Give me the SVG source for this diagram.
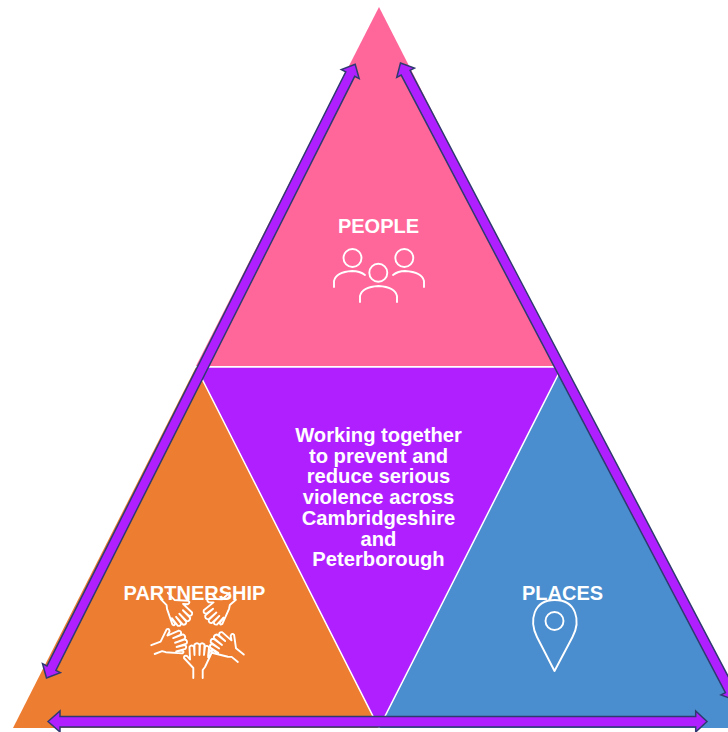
<svg xmlns="http://www.w3.org/2000/svg" width="728" height="732" viewBox="0 0 728 732">
  <defs>
    <path id="hand" d="M-5.700 35L-5.700 25L-15 15Q-15.500 12-12 13L-9 16.500L-9.500 4Q-7.500 1-5 4L-4.500 12L-4.500 1.500Q-2-1 .5 1.500L.5 12L1 1.500Q3-1 5.500 1.500L5 12L6 4Q8 1.500 10 4.500L9 14L10.500 8Q12.500 6 13 9L6 24L3.700 27L3.700 35"/>
  </defs>
  <style>
    .tri { stroke: #ffffff; stroke-width: 1.500; }
    .label { font-family: "Liberation Sans", Arial, sans-serif; font-size: 20px; font-weight: 700; fill: #ffffff; text-anchor: middle; }
    .wide { font-size: 20.200px; }
    .icon { fill: none; stroke: #ffffff; stroke-width: 1.900; stroke-linecap: round; stroke-linejoin: round; }
    .arrow { fill: #b01fff; stroke: #2f3a70; stroke-width: 1.500; stroke-linejoin: miter; }
  </style>
  <rect width="728" height="732" fill="#ffffff"/>
  <g id="partnership">
    <polygon points="196,367 13,728 379,728" fill="#ed7d31"/>
    <use href="#hand" class="icon" transform="translate(199 643)"/>
    <use href="#hand" class="icon" transform="translate(186 638) rotate(69)"/>
    <use href="#hand" class="icon" transform="translate(213 637) rotate(-51) scale(-1 1)"/>
    <use href="#hand" class="icon" transform="translate(188 622) rotate(136)"/>
    <use href="#hand" class="icon" transform="translate(207 620) rotate(-131) scale(-1 1)"/>
    <text class="label" x="194.500" y="600">PARTNERSHIP</text>
  </g>
  <g id="places">
    <polygon points="562,367 379,728 745,728" fill="#4a8ecf"/>
    <path class="icon" d="M554.500 671L537 637C529 621 533 600 554.800 600C576.500 600 581 621 572.500 637Z"/>
    <circle class="icon" cx="554.500" cy="621" r="9"/>
    <text class="label" x="562.500" y="600">PLACES</text>
  </g>
  <g id="people">
    <polygon points="379,7 196,366 562,366" fill="#ff6699"/>
    <circle class="icon" cx="352.500" cy="258" r="9"/>
    <circle class="icon" cx="404.300" cy="258" r="9"/>
    <circle class="icon" cx="378.300" cy="272.700" r="9"/>
    <path class="icon" d="M334 287L334 281Q336 272 352 271Q360 271 365 275"/>
    <path class="icon" d="M393 275Q398 271 405 271Q422 272 424 281L424 287"/>
    <path class="icon" d="M360 302L360 296Q362 287 378.500 286Q395 287 397 296L397 302"/>
    <text class="label" x="378.500" y="233">PEOPLE</text>
  </g>
  <g id="centre">
    <polygon points="196,367 562,367 379,728" fill="#b01fff" class="tri"/>
    <text class="label wide" x="378.500" y="442">Working together</text>
    <text class="label wide" x="378.500" y="462.500">to prevent and</text>
    <text class="label wide" x="378.500" y="483">reduce serious</text>
    <text class="label wide" x="378.500" y="504">violence across</text>
    <text class="label wide" x="378.500" y="525">Cambridgeshire</text>
    <text class="label wide" x="378.500" y="545.500">and</text>
    <text class="label wide" x="378.500" y="566">Peterborough</text>
  </g>
  <g id="connectors">
    <polygon class="arrow" transform="translate(46.500 678) rotate(-63.300)" points="0,0 11,-10 11,-5 676,-5 676,-10 687,0 676,10 676,5 11,5 11,10"/>
    <polygon class="arrow" transform="translate(400.500 63) rotate(62.300)" points="0,0 11,-10 11,-5 708.500,-5 708.500,-10 719.500,0 708.500,10 708.500,5 11,5 11,10"/>
    <polygon class="arrow" points="48,721.500 60,711 60,716.500 695.700,716.500 695.700,711 707,721.500 695.700,732 695.700,727 60,727 60,732"/>
  </g>
</svg>
